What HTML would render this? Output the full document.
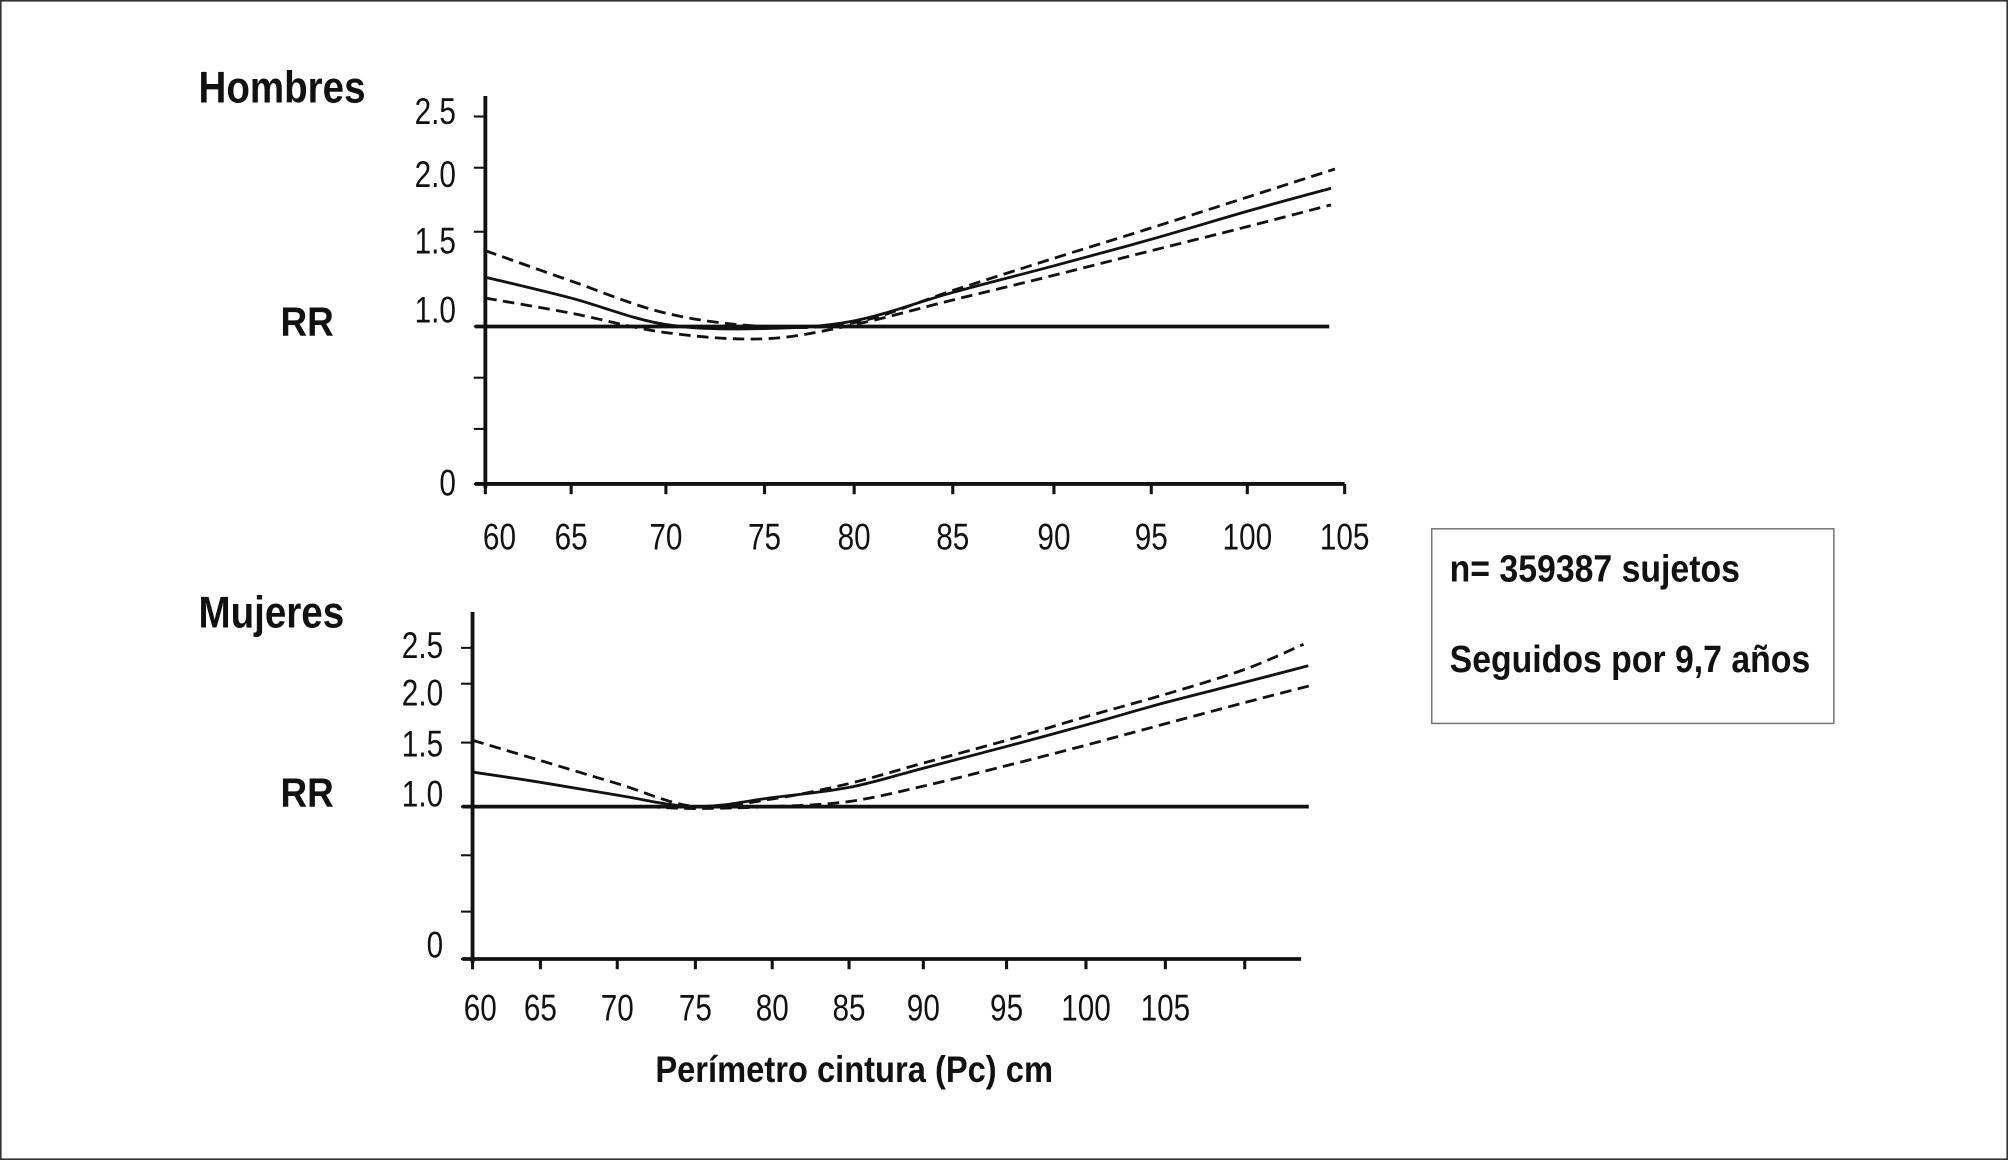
<!DOCTYPE html>
<html><head><meta charset="utf-8"><style>
html,body{margin:0;padding:0;background:#fff;}
svg{display:block;}
text{font-family:"Liberation Sans Narrow","Liberation Sans",sans-serif;fill:#111;}
.tick{font-size:29px;}
.b{font-weight:bold;}
</style></head><body>
<svg id="chart" width="2008" height="1160" viewBox="0 0 1568 906" preserveAspectRatio="none" xmlns="http://www.w3.org/2000/svg">
<rect x="0.5" y="0.5" width="1567" height="905" fill="#fff" stroke="#333" stroke-width="1.5"/>
<text class="b" transform="translate(155,80) scale(0.86,1)" font-size="35">Hombres</text>
<text class="b" transform="translate(155,490) scale(0.86,1)" font-size="35">Mujeres</text>
<text class="b" transform="translate(219,262) scale(0.9,1)" font-size="32">RR</text>
<text class="b" transform="translate(219,630) scale(0.9,1)" font-size="32">RR</text>
<text class="b" transform="translate(667,845) scale(0.88,1)" font-size="29" text-anchor="middle">Perímetro cintura (Pc) cm</text>
<g>
<rect x="1118" y="413" width="314" height="152" fill="#fff" stroke="#777" stroke-width="1.2"/>
<text class="b" transform="translate(1132,454) scale(0.88,1)" font-size="30">n= 359387 sujetos</text>
<text class="b" transform="translate(1132,525) scale(0.88,1)" font-size="30">Seguidos por 9,7 años</text>
</g>
<g id="top"></g>
<g id="bot"></g>
</svg>
<script>
// ---- Hombres data ----
const topXTicks = [60,65,70,75,80,85,90,95,100,105];
const topYTicks = [0,0.5,0.75,1.0,1.5,2.0,2.5];
const topYLabels = ["0","","","1.0","1.5","2.0","2.5"];
const topX = [60,65,70,75,80,85,90,95,100,104.3];
const topRR = [1.26,1.15,1.01,0.99,1.03,1.18,1.32,1.46,1.66,1.84];
const topUpper = [1.40,1.24,1.07,1.0,1.02,1.19,1.36,1.53,1.77,1.99];
const topLower = [1.15,1.07,0.97,0.94,1.01,1.14,1.27,1.40,1.54,1.71];
// ---- Mujeres data ----
const botXTicks = [60,65,70,75,80,85,90,95,100,105,110];
const botXLabels = ["60","65","70","75","80","85","90","95","100","105",""];
const botYTicks = [0,0.5,0.75,1.0,1.5,2.0,2.5];
const botYLabels = ["0","","","1.0","1.5","2.0","2.5"];
const botX = [60,65,70,75,80,85,90,95,100,105,110,114];
const botRR = [1.27,1.19,1.09,1.0,1.07,1.15,1.30,1.47,1.65,1.84,2.02,2.25];
const botUpperX = [60,65,70,75,80,85,90,95,100,105,110,113.7];
const botUpper = [1.52,1.36,1.18,1.0,1.06,1.18,1.34,1.52,1.72,1.91,2.2,2.55];
const botLowerX = [72,75,80,85,90,95,100,105,110,114.3];
const botLower = [1.0,0.99,1.0,1.04,1.16,1.32,1.48,1.66,1.84,1.99];

function piece(dom, rng){return v=>{
  if(v<=dom[0]) return rng[0]+(v-dom[0])*(rng[1]-rng[0])/(dom[1]-dom[0]);
  for(let i=1;i<dom.length;i++){ if(v<=dom[i]) return rng[i-1]+(v-dom[i-1])*(rng[i]-rng[i-1])/(dom[i]-dom[i-1]); }
  const n=dom.length-1; return rng[n]+(v-dom[n])*(rng[n]-rng[n-1])/(dom[n]-dom[n-1]);
};}
const NS="http://www.w3.org/2000/svg";
function mk(parent,tag,attrs,txt){const e=document.createElementNS(NS,tag);for(const k in attrs)e.setAttribute(k,attrs[k]);if(txt!==undefined)e.textContent=txt;parent.appendChild(e);return e;}
function smooth(pts){
  let d='M'+pts[0][0].toFixed(1)+' '+pts[0][1].toFixed(1);
  for(let i=0;i<pts.length-1;i++){
    const p0=pts[Math.max(0,i-1)],p1=pts[i],p2=pts[i+1],p3=pts[Math.min(pts.length-1,i+2)];
    const t=1/6;
    const c1=[p1[0]+(p2[0]-p0[0])*t,p1[1]+(p2[1]-p0[1])*t];
    const c2=[p2[0]-(p3[0]-p1[0])*t,p2[1]-(p3[1]-p1[1])*t];
    d+=' C'+c1[0].toFixed(1)+' '+c1[1].toFixed(1)+' '+c2[0].toFixed(1)+' '+c2[1].toFixed(1)+' '+p2[0].toFixed(1)+' '+p2[1].toFixed(1);
  }
  return d;
}

function drawPanel(g, cfg){
  const xs=cfg.xs, ys=cfg.ys;
  const x0=xs(cfg.xTicks[0]), yb=ys(0);
  const ya=mk(g,'line',{x1:x0,y1:cfg.yTop,x2:x0,y2:yb+3,stroke:'#111','stroke-width':3});
  
  
  const xa=mk(g,'line',{x1:x0-8,y1:yb,x2:cfg.xEnd,y2:yb,stroke:'#111','stroke-width':3});
  
  
  cfg.yTicks.forEach((v,i)=>{
    const y=ys(v);
    const t=mk(g,'line',{x1:x0-9,y1:y,x2:x0,y2:y,stroke:'#111','stroke-width':1.6});
    
    
    if(cfg.yLabels[i]){
      const l=mk(g,'text',{transform:'translate('+cfg.yLabelX+','+(y+cfg.yLabelDy[i])+') scale(0.8,1)','text-anchor':'end',class:'tick'},cfg.yLabels[i]);
      
      
    }
  });
  cfg.xTicks.forEach((v,i)=>{
    const x=xs(v);
    const t=mk(g,'line',{x1:x,y1:yb,x2:x,y2:yb+8,stroke:'#111','stroke-width':2.4});
    
    
    const lab=cfg.xLabels?cfg.xLabels[i]:String(v);
    if(lab){
      const dx = (i===0)?cfg.firstLabelDx:0;
      const l=mk(g,'text',{transform:'translate('+(x+dx)+','+cfg.xLabelY+') scale(0.8,1)','text-anchor':'middle',class:'tick'},lab);
      
      
    }
  });
  const ref=mk(g,'line',{x1:x0-8,y1:ys(1),x2:cfg.refEnd,y2:ys(1),stroke:'#111','stroke-width':3});
  
  
  cfg.series.forEach(s=>{
    const pts=s.x.map((xv,i)=>[xs(xv),ys(s.y[i])]);
    const p=mk(g,'path',{d:smooth(pts),fill:'none',stroke:'#111','stroke-width':2.2,'stroke-dasharray':s.dash||'none','stroke-linejoin':'round'});
    
    
  });
}

drawPanel(document.getElementById('top'),{
  xs:piece(topXTicks,[379,446,520,597,667,744,823,899,974,1050]),
  ys:piece(topYTicks,[378,335,295,255,181,131,91]),
  xTicks:topXTicks, yTicks:topYTicks, yLabels:topYLabels,
  yLabelX:356, yLabelDy:[9,0,0,-3,17,15,6],
  xLabelY:429, firstLabelDx:11, yTop:75, xEnd:1050, refEnd:1038,
  series:[
    {name:'hombres-rr-line',x:topX,y:topRR},
    {name:'hombres-upper-ci',x:topX.map((v,i)=>i===9?104.5:v),y:topUpper,dash:'9 5'},
    {name:'hombres-lower-ci',x:topX,y:topLower,dash:'9 5'}
  ]
});
drawPanel(document.getElementById('bot'),{
  xs:piece(botXTicks,[369,422,482,543,603,663,721,786,848,910,972]),
  ys:piece(botYTicks,[749,712,668,630,580,534,506]),
  xTicks:botXTicks, xLabels:botXLabels, yTicks:botYTicks, yLabels:botYLabels,
  yLabelX:346, yLabelDy:[-1,0,0,0,11,17,8],
  xLabelY:797, firstLabelDx:6, yTop:478, xEnd:1016, refEnd:1022,
  series:[
    {name:'mujeres-rr-line',x:botX,y:botRR},
    {name:'mujeres-upper-ci',x:botUpperX,y:botUpper,dash:'9 5'},
    {name:'mujeres-lower-ci',x:botLowerX,y:botLower,dash:'9 5'}
  ]
});
</script>
</body></html>
